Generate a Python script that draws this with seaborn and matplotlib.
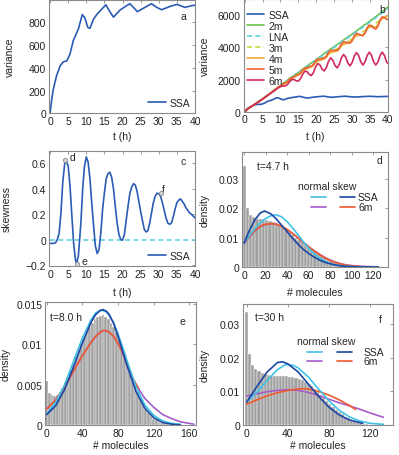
import matplotlib
matplotlib.use("Agg")
import numpy as np
import matplotlib.pyplot as plt
import seaborn as sns
from matplotlib.ticker import FuncFormatter, FixedLocator

# ---------------- data ----------------
# panel a / b : SSA variance
ssa_t = [0, 0.4, 0.9, 1.8, 2.8, 3.7, 4.6, 5.5, 6.4, 7.8, 8.9, 9.6, 10.4, 11.0, 12.0, 13.0,
         14.3, 15.4, 16.6, 17.5, 19.3, 21.1, 22.0, 23.0, 24.1, 25.7, 28.0, 29.4, 30.8,
         33.1, 35.0, 37.2, 39.1, 40]
ssa_var = [0, 110, 214, 331, 419, 454, 460, 522, 639, 741, 868, 840, 756, 747, 829, 873,
           917, 955, 888, 846, 908, 946, 964, 932, 894, 923, 964, 932, 911,
           940, 958, 932, 946, 952]

# panel b : moment closures
lna_t = [0, 1, 2.5, 5, 7.5, 10, 15, 20, 25, 30, 35, 40]
lna_var = [0, 200, 410, 790, 1200, 1620, 2420, 3220, 4000, 4780, 5580, 6400]
m2_t = [0, 2.5, 5, 7.5, 10, 12.5, 15, 17.5, 20, 22.5, 25, 27.5, 30, 32.5, 35, 37.5, 40]
m2_var = [0, 410, 800, 1220, 1640, 2060, 2440, 2860, 3240, 3660, 4040, 4440, 4820, 5240,
          5640, 6060, 6520]
m3_t = [0, 2.5, 5, 7.5, 10, 12.5, 15, 17.5, 20, 22.5, 25, 27.5, 30, 32.5, 35, 37.5, 40]
m3_var = [0, 405, 785, 1190, 1600, 1970, 2340, 2710, 3070, 3440, 3800, 4170, 4540, 4900,
          5270, 5640, 6000]
grid_t = [0.0, 0.6, 1.2, 1.8, 2.4, 3.0, 3.6, 4.2, 4.8, 5.4, 6.0, 6.6, 7.2, 7.8, 8.4, 9.0,
          9.6, 10.2, 10.8, 11.4, 12.0, 12.6, 13.2, 13.8, 14.4, 15.0, 15.6, 16.2, 16.8, 17.4,
          18.0, 18.6, 19.2, 19.8, 20.4, 21.0, 21.6, 22.2, 22.8, 23.4, 24.0, 24.6, 25.2, 25.8,
          26.4, 27.0, 27.6, 28.2, 28.8, 29.4, 30.0, 30.6, 31.2, 31.8, 32.4, 33.0, 33.6, 34.2,
          34.8, 35.4, 36.0, 36.6, 37.2, 37.8, 38.4, 39.0, 39.6, 40.0]
m4_var = [0, 120, 228, 312, 396, 486, 577, 668, 760, 856, 954, 1052, 1151, 1250, 1351, 1452,
          1550, 1606, 1719, 1775, 1854, 2011, 2090, 2136, 2228, 2274, 2361, 2534, 2620, 2658,
          2734, 2772, 2867, 3056, 3150, 3180, 3240, 3270, 3373, 3578, 3680, 3702, 3746, 3768,
          3879, 4100, 4210, 4224, 4253, 4267, 4385, 4622, 4740, 4746, 4759, 4765, 4891, 5144,
          5270, 5268, 5265, 5263, 5397, 5666, 5800, 5850, 5920, 5960]
m5_var = [0, 120, 228, 312, 396, 486, 577, 668, 760, 856, 954, 1052, 1151, 1250, 1351, 1452,
          1550, 1608, 1725, 1783, 1870, 2043, 2130, 2174, 2263, 2307, 2405, 2602, 2700, 2733,
          2798, 2830, 2937, 3150, 3257, 3276, 3314, 3333, 3452, 3691, 3810, 3812, 3815, 3817,
          3949, 4212, 4344, 4328, 4296, 4280, 4427, 4720, 4867, 4831, 4760, 4724, 4891, 5224,
          5390, 5327, 5200, 5137, 5326, 5705, 5894, 5850, 5760, 5720]
m6_var = [0, 120, 225, 310, 395, 480, 570, 660, 750, 845, 940, 1035, 1130, 1225, 1320, 1420,
          1510, 1570, 1595, 1605, 1700, 1870, 2000, 2000, 1920, 1900, 2055, 2330, 2520, 2495,
          2325, 2245, 2430, 2780, 2995, 2910, 2650, 2535, 2740, 3125, 3350, 3210, 2880, 2720,
          2935, 3340, 3560, 3395, 3030, 2850, 3055, 3460, 3675, 3490, 3100, 2900, 3100, 3500,
          3700, 3500, 3100, 2900, 3100, 3500, 3700, 3500, 3100, 3000]

# panel c : skewness (SSA)
skew_t = [0, 0.5, 1, 1.5, 2, 2.5, 3, 3.5, 4, 4.3, 5, 5.5, 6, 6.5, 7, 7.3, 7.8, 8.5, 9, 9.5,
          10, 10.5, 11, 11.5, 12, 12.5, 13, 13.5, 14, 14.5, 15, 15.5, 16, 16.5, 17, 17.5,
          18, 18.5, 19, 19.5, 20, 20.5, 21, 21.5, 22, 22.5, 23, 23.5, 24, 24.5, 25, 25.5,
          26, 26.5, 27, 27.5, 28, 28.5, 29, 29.5, 30, 30.5, 31, 31.5, 32, 32.5, 33, 33.5,
          34, 34.5, 35, 35.5, 36, 36.5, 37, 37.5, 38, 38.5, 39, 40]
skew_val = [-0.03, -0.03, -0.03, -0.025, 0.0, 0.05, 0.21, 0.45, 0.59, 0.63, 0.58, 0.42,
            0.19, -0.03, -0.16, -0.19, -0.13, 0.13, 0.40, 0.58, 0.65, 0.61, 0.48, 0.29,
            0.11, -0.05, -0.11, -0.08, 0.05, 0.24, 0.37, 0.48, 0.52, 0.53, 0.49, 0.40, 0.26,
            0.13, 0.04, 0.0, -0.005, 0.04, 0.15, 0.26, 0.36, 0.41, 0.44, 0.43, 0.38, 0.30,
            0.22, 0.15, 0.08, 0.06, 0.07, 0.13, 0.21, 0.29, 0.34, 0.365, 0.36, 0.34, 0.29,
            0.23, 0.17, 0.13, 0.12, 0.13, 0.18, 0.24, 0.29, 0.31, 0.32, 0.30, 0.28, 0.25,
            0.23, 0.21, 0.20, 0.17]
lna_skew_t = [0, 40]
lna_skew = [0, 0]
mark_t = [4.2, 7.4, 30.5]
mark_s = [0.63, -0.19, 0.365]
mark_lab = ["d", "e", "f"]

# panel d : t = 4.7 h
d_centers = [0, 3, 6, 9, 12, 15, 18, 21, 24, 27, 30, 33, 36, 39, 42, 45, 48, 51, 54, 57, 60,
             63, 66, 69, 72, 75, 78, 81, 84, 87, 90, 93, 96, 99, 102, 105, 108]
d_hist = [0.0343, 0.0200, 0.0178, 0.0168, 0.0163, 0.0162, 0.0162, 0.0160, 0.0156, 0.0153,
          0.0149, 0.0143, 0.0135, 0.0126, 0.0117, 0.0108, 0.0100, 0.0092, 0.0084, 0.0077,
          0.0070, 0.0062, 0.0054, 0.0046, 0.0039, 0.0032, 0.0025, 0.0019, 0.0015, 0.0011,
          0.0008, 0.0006, 0.0004, 0.0003, 0.0002, 0.0001, 0.0001]
d_x = [0, 5, 10, 15, 19, 25, 30, 35, 40, 45, 50, 55, 60, 65, 70, 75, 80, 85, 90, 95, 100,
       110, 120, 125]
d_ssa_norm = [0.0082, 0.0108, 0.0130, 0.0150, 0.0162, 0.0174, 0.0177, 0.0170, 0.0154, 0.0133,
              0.0110, 0.0086, 0.0064, 0.0046, 0.0031, 0.0020, 0.0012, 0.0007, 0.0004, 0.0002,
              0.0001, 0.0, 0.0, 0.0]
d_ssa_skew = [0.0082, 0.0125, 0.0160, 0.0183, 0.0190, 0.0180, 0.0163, 0.0141, 0.0120, 0.0098,
              0.0078, 0.0060, 0.0046, 0.0034, 0.0024, 0.0016, 0.0011, 0.0007, 0.0004, 0.0002,
              0.0001, 0.0, 0.0, 0.0]
d_6m_norm = [0.0080, 0.0103, 0.0122, 0.0137, 0.0143, 0.0147, 0.0145, 0.0138, 0.0127, 0.0114,
             0.0099, 0.0084, 0.0069, 0.0056, 0.0044, 0.0033, 0.0024, 0.0017, 0.0011, 0.0007,
             0.0005, 0.0002, 0.0001, 0.00005]
d_6m_skew = [0.0082, 0.0105, 0.0124, 0.0138, 0.0144, 0.0147, 0.0145, 0.0138, 0.0127, 0.0114,
             0.0099, 0.0084, 0.0069, 0.0055, 0.0042, 0.0031, 0.0022, 0.0015, 0.0010, 0.0006,
             0.0003, 0.0001, 0.0, 0.0]

# panel e : t = 8.0 h
e_centers = [0, 3, 6, 9, 12, 15, 18, 21, 24, 27, 30, 33, 36, 39, 42, 45, 48, 51, 54, 57, 60,
             63, 66, 69, 72, 75, 78, 81, 84, 87, 90, 93, 96, 99, 102, 105, 108, 111, 114, 117,
             120, 123, 126, 129, 132, 135]
e_hist = [0.0055, 0.0040, 0.0037, 0.0036, 0.0037, 0.0041, 0.0046, 0.0053, 0.0060, 0.0068,
          0.0076, 0.0085, 0.0093, 0.0101, 0.0109, 0.0116, 0.0122, 0.0127, 0.0131, 0.0134,
          0.0135, 0.0136, 0.0134, 0.0131, 0.0127, 0.0122, 0.0115, 0.0107, 0.0098, 0.0089,
          0.0079, 0.0069, 0.0059, 0.0050, 0.0041, 0.0033, 0.0026, 0.0020, 0.0015, 0.0011,
          0.0008, 0.0006, 0.0004, 0.0003, 0.0002, 0.0001]
e_x_ssa = [0, 10, 20, 30, 40, 50, 55, 60, 63, 67, 70, 75, 80, 85, 90, 100, 110, 120, 130, 140,
           150]
e_ssa_norm = [0.0014, 0.0028, 0.0050, 0.0079, 0.0108, 0.0131, 0.0139, 0.0142, 0.0142, 0.0140,
              0.0136, 0.0127, 0.0113, 0.0097, 0.0080, 0.0048, 0.0025, 0.0012, 0.0005, 0.0002,
              0.0001]
e_ssa_skew = [0.0013, 0.0024, 0.0044, 0.0072, 0.0102, 0.0128, 0.0137, 0.0142, 0.0143, 0.0141,
              0.0137, 0.0126, 0.0110, 0.0092, 0.0074, 0.0042, 0.0021, 0.0009, 0.0003, 0.0001,
              0.0]
e_x_6m = [0, 10, 20, 30, 40, 50, 55, 60, 63, 67, 70, 75, 80, 85, 90, 97, 103, 110, 120, 130,
          140, 150, 160, 165]
e_6m_norm = [0.0020, 0.0031, 0.0047, 0.0067, 0.0086, 0.0103, 0.0110, 0.0115, 0.0117, 0.0117,
             0.0115, 0.0110, 0.0101, 0.0090, 0.0076, 0.0057, 0.0045, 0.0033, 0.0022, 0.0013,
             0.0008, 0.0004, 0.0002, 0.0001]
e_x_6m_skew = [0, 10, 20, 30, 40, 50, 55, 60, 63, 67, 70, 75, 80, 85, 90, 97, 103]
e_6m_skew = [0.0020, 0.0031, 0.0047, 0.0067, 0.0086, 0.0103, 0.0110, 0.0115, 0.0117, 0.0117,
             0.0115, 0.0110, 0.0101, 0.0090, 0.0076, 0.0057, 0.0045]

# panel f : t = 30 h
f_centers = [0, 3, 6, 9, 12, 15, 18, 21, 24, 27, 30, 33, 36, 39, 42, 45, 48, 51, 54, 57, 60,
             63, 66, 69, 72, 75, 78, 81, 84, 87, 90, 93, 96, 99, 102, 105, 108, 111, 114, 117,
             120]
f_hist = [0.0335, 0.0210, 0.0178, 0.0166, 0.0160, 0.0155, 0.0151, 0.0148, 0.0146, 0.0145,
          0.0145, 0.0145, 0.0145, 0.0145, 0.0144, 0.0143, 0.0141, 0.0138, 0.0134, 0.0129,
          0.0123, 0.0116, 0.0108, 0.0099, 0.0090, 0.0081, 0.0072, 0.0063, 0.0054, 0.0046,
          0.0039, 0.0032, 0.0025, 0.0020, 0.0015, 0.0011, 0.0008, 0.0005, 0.0003, 0.0002,
          0.0001]
f_x_norm = [0, 10, 20, 30, 38, 45, 50, 60, 70, 80, 90, 100, 110, 120, 133]
f_ssa_norm = [0.0068, 0.0098, 0.0133, 0.0165, 0.0180, 0.0178, 0.0170, 0.0143, 0.0107, 0.0072,
              0.0044, 0.0024, 0.0012, 0.0005, 0.0002]
f_x_skew = [0, 10, 20, 30, 35, 40, 50, 60, 70, 80, 90, 100, 113]
f_ssa_skew = [0.0068, 0.0115, 0.0158, 0.0186, 0.0188, 0.0182, 0.0158, 0.0122, 0.0085, 0.0053,
              0.0030, 0.0015, 0.0005]
f_x_6m_norm = [0, 10, 20, 30, 40, 50, 60, 70, 80, 90, 100, 110, 120, 133]
f_6m_norm = [0.0086, 0.0093, 0.0099, 0.0103, 0.0105, 0.0103, 0.0097, 0.0088, 0.0077, 0.0066,
             0.0057, 0.0047, 0.0036, 0.0023]
f_x_6m_skew = [0, 10, 20, 30, 40, 50, 55, 60, 70, 80, 90, 100, 106]
f_6m_skew = [0.0062, 0.0075, 0.0087, 0.0096, 0.0103, 0.0107, 0.0108, 0.0107, 0.0100, 0.0089,
             0.0075, 0.0058, 0.0046]

# ---------------- style ----------------
sns.set_theme(style="white")
plt.rcParams["font.family"] = ["Liberation Sans", "DejaVu Sans"]
FS = 7.5
C_SSA = "#2a5bb5"
C_DARK = "#1d46a3"
C_CYAN = "#3fc3e6"
C_GREEN = "#6cc24a"
C_LNA = "#62cfe0"
C_3M = "#c8dc4a"
C_4M = "#f6aa3c"
C_5M = "#ec6236"
C_6M = "#cf2a5c"
C_PURPLE = "#a65cc8"
C_RED = "#ee5a2c"
C_BAR = "#a0a0a0"
LW = 1.2

W, H = 399, 456
fig = plt.figure(figsize=(W / 100, H / 100), dpi=100)


def add_ax(l, r, t, b):
    return fig.add_axes([l / W, 1 - b / H, (r - l) / W, (b - t) / H])


fmt = FuncFormatter(lambda v, _: ("%g" % v).replace("-", "\u2212"))


def style(ax, xlabel, ylabel, ylab_x, xlab_y):
    for s in ax.spines.values():
        s.set_color("#8a8a8a")
        s.set_linewidth(0.8)
    ax.tick_params(direction="in", top=True, right=True, length=2.5, width=0.6,
                   colors="#8a8a8a", labelcolor="#222222", labelsize=FS, pad=2)
    ax.set_xlabel(xlabel, fontsize=FS, color="#222222")
    ax.set_ylabel(ylabel, fontsize=FS, color="#222222")
    ax.yaxis.set_label_coords(ylab_x, 0.5)
    ax.xaxis.set_label_coords(0.5, xlab_y)
    ax.xaxis.set_major_formatter(fmt)
    ax.yaxis.set_major_formatter(fmt)


def line(ax, x, y, color, ls="-", label=None, lw=LW):
    sns.lineplot(x=x, y=y, ax=ax, color=color, linewidth=lw, linestyle=ls,
                 estimator=None, sort=False, label=label, legend=False)


def hist(ax, centers, heights):
    edges = [c - 1.5 for c in centers] + [centers[-1] + 1.5]
    sns.histplot(x=centers, weights=heights, bins=edges, ax=ax, color=C_BAR,
                 edgecolor="white", linewidth=0.3, alpha=1.0)


# ---- panel a ----
ax = add_ax(49, 195, 0.6, 114.3)
line(ax, ssa_t, ssa_var, C_SSA, label="SSA")
ax.set_xlim(-0.3, 40)
ax.set_ylim(0, 1000)
ax.xaxis.set_major_locator(FixedLocator([0, 5, 10, 15, 20, 25, 30, 35, 40]))
ax.yaxis.set_major_locator(FixedLocator([0, 200, 400, 600, 800]))
style(ax, "t (h)", "variance", -0.233, -0.16)
ax.legend(loc="lower right", frameon=False, fontsize=FS, handlelength=1.7,
          handletextpad=0.3, borderaxespad=0.15, borderpad=0.35)
ax.text(0.92, 0.86, "a", transform=ax.transAxes, fontsize=FS, ha="center", va="center")

# ---- panel b ----
ax = add_ax(243.5, 388, 0.1, 112.7)
line(ax, ssa_t, ssa_var, C_SSA, label="SSA")
line(ax, m2_t, m2_var, C_GREEN, label="2m")
line(ax, lna_t, lna_var, C_LNA, ls=(0, (3, 2)), label="LNA")
line(ax, m3_t, m3_var, C_3M, ls=(0, (3, 2)), label="3m")
line(ax, grid_t, m4_var, C_4M, label="4m")
line(ax, grid_t, m5_var, C_5M, label="5m")
line(ax, grid_t, m6_var, C_6M, label="6m")
ax.set_xlim(-0.3, 40)
ax.set_ylim(0, 7000)
ax.xaxis.set_major_locator(FixedLocator([0, 5, 10, 15, 20, 25, 30, 35, 40]))
ax.yaxis.set_major_locator(FixedLocator([0, 2000, 4000, 6000]))
style(ax, "t (h)", "variance", -0.232, -0.17)
ax.legend(loc="upper left", bbox_to_anchor=(0.0, 0.935), frameon=False, fontsize=FS,
          handlelength=1.7, handletextpad=0.4, labelspacing=0.1, borderaxespad=0.0,
          borderpad=0.3)
ax.text(0.96, 0.915, "b", transform=ax.transAxes, fontsize=FS, ha="center", va="center")

# ---- panel c ----
ax = add_ax(49, 195, 152, 267)
line(ax, lna_skew_t, lna_skew, C_LNA, ls=(0, (3, 2)))
line(ax, skew_t, skew_val, C_SSA, label="SSA")
ax.plot(mark_t, mark_s, "o", ms=3.2, mfc="#d0d0d0", mec="#909090", mew=0.6, zorder=5)
for tt, ss, lab, dx, dy in zip(mark_t, mark_s, mark_lab, [1.9, 2.0, 0.8], [0.02, 0.025, 0.035]):
    ax.text(tt + dx, ss + dy, lab, fontsize=FS, ha="center", va="center")
ax.set_xlim(-0.3, 40)
ax.set_ylim(-0.208, 0.697)
ax.xaxis.set_major_locator(FixedLocator([0, 5, 10, 15, 20, 25, 30, 35, 40]))
ax.yaxis.set_major_locator(FixedLocator([-0.2, 0, 0.2, 0.4, 0.6]))
style(ax, "t (h)", "skewness", -0.253, -0.18)
h, l = ax.get_legend_handles_labels()
ax.legend(h[-1:], l[-1:], loc="lower right", frameon=False, fontsize=FS, handlelength=1.7,
          handletextpad=0.3, borderaxespad=0.15, borderpad=0.35)
ax.text(0.918, 0.916, "c", transform=ax.transAxes, fontsize=FS, ha="center", va="center")


def dist_legend(ax, xh, yh, y1, y2, xc, xb, xt):
    ax.text(xh, yh, "normal skew", transform=ax.transAxes, fontsize=FS, ha="left",
            va="center")
    ax.plot(xc, [y1, y1], transform=ax.transAxes, color=C_CYAN, lw=LW)
    ax.plot(xb, [y1, y1], transform=ax.transAxes, color=C_DARK, lw=LW)
    ax.plot(xc, [y2, y2], transform=ax.transAxes, color=C_PURPLE, lw=LW)
    ax.plot(xb, [y2, y2], transform=ax.transAxes, color=C_RED, lw=LW)
    ax.text(xt, y1, "SSA", transform=ax.transAxes, fontsize=FS, ha="left", va="center")
    ax.text(xt, y2, "6m", transform=ax.transAxes, fontsize=FS, ha="left", va="center")


# ---- panel d ----
ax = add_ax(242, 388, 153, 268)
hist(ax, d_centers, d_hist)
line(ax, d_x, d_6m_norm, C_PURPLE)
line(ax, d_x, d_6m_skew, C_RED)
line(ax, d_x, d_ssa_norm, C_CYAN)
line(ax, d_x, d_ssa_skew, C_DARK)
ax.set_xlim(-2, 134)
ax.set_ylim(0, 0.039)
ax.xaxis.set_major_locator(FixedLocator([0, 20, 40, 60, 80, 100, 120]))
ax.yaxis.set_major_locator(FixedLocator([0, 0.01, 0.02, 0.03]))
style(ax, "# molecules", "density", -0.219, -0.175)
ax.text(0.103, 0.875, "t=4.7 h", transform=ax.transAxes, fontsize=FS, ha="left", va="center")
ax.text(0.945, 0.93, "d", transform=ax.transAxes, fontsize=FS, ha="center", va="center")
dist_legend(ax, 0.384, 0.705, 0.611, 0.519, [0.474, 0.577], [0.671, 0.774], 0.795)

# ---- panel e ----
ax = add_ax(45, 196, 303, 426)
hist(ax, e_centers, e_hist)
line(ax, e_x_6m, e_6m_norm, C_PURPLE)
line(ax, e_x_6m_skew, e_6m_skew, C_RED)
line(ax, e_x_ssa, e_ssa_norm, C_CYAN)
line(ax, e_x_ssa, e_ssa_skew, C_DARK)
ax.set_xlim(-2, 167.5)
ax.set_ylim(0, 0.01525)
ax.xaxis.set_major_locator(FixedLocator([0, 40, 80, 120, 160]))
ax.yaxis.set_major_locator(FixedLocator([0, 0.005, 0.01, 0.015]))
style(ax, "# molecules", "density", -0.228, -0.122)
ax.text(0.033, 0.878, "t=8.0 h", transform=ax.transAxes, fontsize=FS, ha="left", va="center")
ax.text(0.907, 0.846, "e", transform=ax.transAxes, fontsize=FS, ha="center", va="center")

# ---- panel f ----
ax = add_ax(243, 393, 305, 426)
hist(ax, f_centers, f_hist)
line(ax, f_x_6m_norm, f_6m_norm, C_PURPLE)
line(ax, f_x_6m_skew, f_6m_skew, C_RED)
line(ax, f_x_norm, f_ssa_norm, C_CYAN)
line(ax, f_x_skew, f_ssa_skew, C_DARK)
ax.set_xlim(-3.6, 142.4)
ax.set_ylim(0, 0.036)
ax.xaxis.set_major_locator(FixedLocator([0, 40, 80, 120]))
ax.yaxis.set_major_locator(FixedLocator([0, 0.01, 0.02, 0.03]))
style(ax, "# molecules", "density", -0.22, -0.124)
ax.text(0.08, 0.893, "t=30 h", transform=ax.transAxes, fontsize=FS, ha="left", va="center")
ax.text(0.913, 0.876, "f", transform=ax.transAxes, fontsize=FS, ha="center", va="center")
dist_legend(ax, 0.358, 0.697, 0.606, 0.531, [0.425, 0.525], [0.625, 0.725], 0.802)

fig.savefig("out.png", dpi=100)
